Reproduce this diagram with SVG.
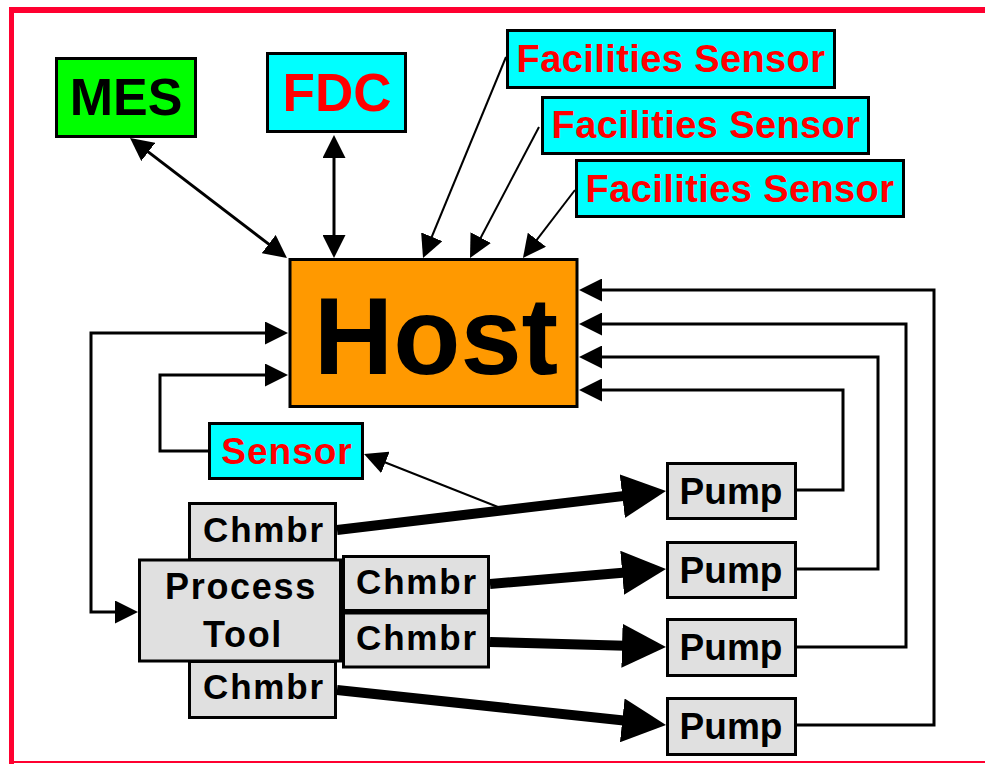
<svg xmlns="http://www.w3.org/2000/svg" width="985" height="764" viewBox="0 0 985 764">
<style>
.box{stroke:#000;stroke-width:3}
.cyan{fill:#00FFFF}
.green{fill:#00FF00}
.orange{fill:#FF9900}
.gray{fill:#E0E0E0}
text{font-family:"Liberation Sans",Arial,sans-serif;font-weight:bold;text-anchor:middle}
.red{fill:#FF0000}
.blk{fill:#000}
.ln{fill:none;stroke:#000;stroke-width:3}
.thin{fill:none;stroke:#000;stroke-width:2}
.thick{fill:none;stroke:#000;stroke-width:10}
</style>
<defs>
<marker id="ah" markerUnits="userSpaceOnUse" markerWidth="23" markerHeight="23" refX="17" refY="11.5" orient="auto-start-reverse" viewBox="0 0 23 23">
<path d="M0,0 L23,11.5 L0,23 z" fill="#000"/>
</marker>
<marker id="big" markerUnits="userSpaceOnUse" markerWidth="44" markerHeight="44" refX="30" refY="22" orient="auto" viewBox="0 0 44 44">
<path d="M0,0 L44,22 L0,44 z" fill="#000"/>
</marker>
</defs>
<rect width="985" height="764" fill="#fff"/>
<g id="frame">
<rect x="9" y="7" width="976" height="6" fill="#FF0030"/>
<rect x="9" y="7" width="5" height="757" fill="#FF0030"/>
<rect x="9" y="761" width="976" height="2" fill="#FF0030"/>
</g>
<g id="connectors">
<path class="ln" d="M134.8,141.6 L282.2,254.4" marker-start="url(#ah)" marker-end="url(#ah)"/>
<path class="ln" d="M334,141 L334,252" marker-start="url(#ah)" marker-end="url(#ah)"/>
<path class="thin" d="M506,57 L425.3,252.5" marker-end="url(#ah)"/>
<path class="thin" d="M539,127 L472.8,252.7" marker-end="url(#ah)"/>
<path class="thin" d="M575,190 L526.6,253.2" marker-end="url(#ah)"/>
<path class="ln" d="M282,333 L91,333 L91,612 L132,612" marker-start="url(#ah)" marker-end="url(#ah)"/>
<path class="ln" d="M208,451 L160,451 L160,375 L282,375" marker-end="url(#ah)"/>
<path class="ln" d="M797,490 L843,490 L843,390 L585,390" marker-end="url(#ah)"/>
<path class="ln" d="M797,569 L878,569 L878,357 L585,357" marker-end="url(#ah)"/>
<path class="ln" d="M797,647 L906,647 L906,324 L585,324" marker-end="url(#ah)"/>
<path class="ln" d="M797,725 L934,725 L934,290 L585,290" marker-end="url(#ah)"/>
<path class="thin" d="M498,507 L369.6,456.2" marker-end="url(#ah)"/>
<path class="thick" d="M337,530 L652.1,492.6" marker-end="url(#big)"/>
<path class="thick" d="M490,584 L652.05,570.2" marker-end="url(#big)"/>
<path class="thick" d="M490,642 L652,646.6" marker-end="url(#big)"/>
<path class="thick" d="M337,690 L652.1,723.5" marker-end="url(#big)"/>
</g>
<g id="mes">
<rect class="box green" x="56.5" y="58.5" width="139" height="78"/>
<text class="blk" x="126" y="115" font-size="52">MES</text>
</g>
<g id="fdc">
<rect class="box cyan" x="267.5" y="53.5" width="138" height="78"/>
<text class="red" x="337" y="111" font-size="53">FDC</text>
</g>
<g id="fs1">
<rect class="box cyan" x="507.5" y="30.5" width="327" height="57"/>
<text class="red" x="671" y="72" font-size="38" letter-spacing="0.4">Facilities Sensor</text>
</g>
<g id="fs2">
<rect class="box cyan" x="542.5" y="97.5" width="326" height="56"/>
<text class="red" x="706" y="138" font-size="38" letter-spacing="0.4">Facilities Sensor</text>
</g>
<g id="fs3">
<rect class="box cyan" x="576.5" y="160.5" width="327" height="56"/>
<text class="red" x="740" y="202" font-size="38" letter-spacing="0.4">Facilities Sensor</text>
</g>
<g id="host">
<rect class="box orange" x="290" y="259.5" width="287" height="147"/>
<text class="blk" x="436" y="374" font-size="110">Host</text>
</g>
<g id="sensor">
<rect class="box cyan" x="209.5" y="423.5" width="153" height="55"/>
<text class="red" x="287" y="464" font-size="37" letter-spacing="1">Sensor</text>
</g>
<g id="chmbr-top">
<rect class="box gray" x="189.5" y="503.5" width="146" height="56"/>
<text class="blk" x="264" y="542" font-size="35" letter-spacing="1.8">Chmbr</text>
</g>
<g id="chmbr-bottom">
<rect class="box gray" x="189.5" y="661.5" width="146" height="56"/>
<text class="blk" x="264" y="699" font-size="35" letter-spacing="1.8">Chmbr</text>
</g>
<g id="process-tool">
<rect class="box gray" x="139.5" y="560" width="201" height="101"/>
<text class="blk" x="241" y="599" font-size="36" letter-spacing="1.7">Process</text>
<text class="blk" x="243" y="647" font-size="36" letter-spacing="1.7">Tool</text>
</g>
<g id="chmbr-r1">
<rect class="box gray" x="343.5" y="556.5" width="145" height="54"/>
<text class="blk" x="417" y="594" font-size="35" letter-spacing="1.8">Chmbr</text>
</g>
<g id="chmbr-r2">
<rect class="box gray" x="343.5" y="613" width="145" height="54"/>
<text class="blk" x="417" y="650" font-size="35" letter-spacing="1.8">Chmbr</text>
</g>
<g id="pump1">
<rect class="box gray" x="667.5" y="463.5" width="128" height="55"/>
<text class="blk" x="731" y="504" font-size="37">Pump</text>
</g>
<g id="pump2">
<rect class="box gray" x="667.5" y="542.5" width="128" height="55"/>
<text class="blk" x="731" y="583" font-size="37">Pump</text>
</g>
<g id="pump3">
<rect class="box gray" x="667.5" y="619.5" width="128" height="56"/>
<text class="blk" x="731" y="660" font-size="37">Pump</text>
</g>
<g id="pump4">
<rect class="box gray" x="667.5" y="698.5" width="128" height="56"/>
<text class="blk" x="731" y="739" font-size="37">Pump</text>
</g>
</svg>
